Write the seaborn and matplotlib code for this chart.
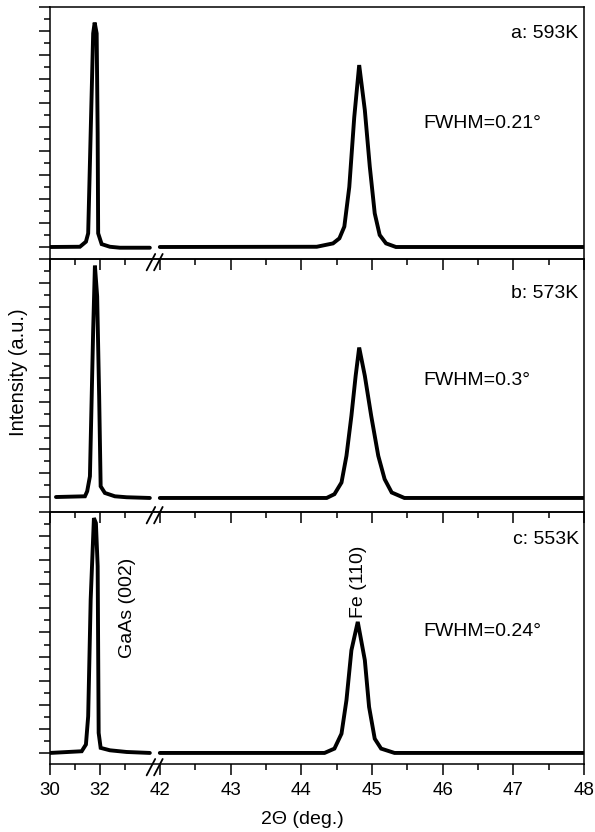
import numpy as np
import pandas as pd
import matplotlib
matplotlib.use("Agg")
import matplotlib.pyplot as plt
import seaborn as sns

# XRD scans, 2theta (deg) vs normalised intensity; left piece = GaAs (002), right piece = Fe (110)
A_GAAS_X = [30.0, 31.2, 31.44, 31.53, 31.63, 31.73, 31.79, 31.87, 31.91, 31.93, 32.07, 32.4, 32.8, 34.0]
A_GAAS_Y = [0.0, 0.001, 0.022, 0.057, 0.475, 0.89, 0.935, 0.89, 0.475, 0.057, 0.012, 0.001, -0.003, -0.003]
A_FE_X = [42.0, 44.22, 44.45, 44.54, 44.61, 44.68, 44.75, 44.82, 44.90, 44.97, 45.04, 45.11, 45.20, 45.34, 48.0]
A_FE_Y = [0.0, 0.001, 0.015, 0.036, 0.085, 0.25, 0.54, 0.758, 0.57, 0.335, 0.14, 0.05, 0.015, 0.0, 0.0]

B_GAAS_X = [30.24, 31.4, 31.49, 31.6, 31.73, 31.8, 31.89, 31.97, 32.03, 32.2, 32.6, 33.07, 34.0]
B_GAAS_Y = [0.0, 0.003, 0.024, 0.087, 0.70, 0.972, 0.843, 0.423, 0.045, 0.017, 0.003, -0.001, -0.004]
B_FE_X = [42.0, 44.36, 44.47, 44.57, 44.64, 44.71, 44.77, 44.82, 44.90, 44.99, 45.09, 45.18, 45.28, 45.46, 48.0]
B_FE_Y = [-0.004, -0.004, 0.012, 0.061, 0.173, 0.341, 0.509, 0.628, 0.509, 0.341, 0.173, 0.075, 0.019, -0.004, -0.004]

C_GAAS_X = [30.0, 31.27, 31.44, 31.53, 31.63, 31.76, 31.84, 31.91, 31.95, 32.03, 32.4, 33.07, 34.0]
C_GAAS_Y = [0.0, 0.007, 0.035, 0.152, 0.636, 0.975, 0.954, 0.775, 0.083, 0.021, 0.011, 0.004, 0.0]
C_FE_X = [42.0, 44.33, 44.47, 44.57, 44.64, 44.71, 44.80, 44.90, 44.96, 45.04, 45.13, 45.32, 48.0]
C_FE_Y = [0.0, 0.0, 0.018, 0.08, 0.219, 0.426, 0.544, 0.385, 0.191, 0.059, 0.018, 0.0, 0.0]

PANEL_LABELS = ["a: 593K", "b: 573K", "c: 553K"]
FWHM_LABELS = ["FWHM=0.21°", "FWHM=0.3°", "FWHM=0.24°"]
X_MAJOR = [30, 32, 42, 43, 44, 45, 46, 47, 48]
X_MINOR = [31, 33, 42.5, 43.5, 44.5, 45.5, 46.5, 47.5]

SCANS = [(A_GAAS_X, A_GAAS_Y, A_FE_X, A_FE_Y),
         (B_GAAS_X, B_GAAS_Y, B_FE_X, B_FE_Y),
         (C_GAAS_X, C_GAAS_Y, C_FE_X, C_FE_Y)]

sns.set_style("ticks")
plt.rcParams.update({
    "font.family": ["Liberation Sans", "DejaVu Sans"],
    "text.color": "black", "axes.labelcolor": "black", "axes.edgecolor": "black",
    "xtick.color": "black", "ytick.color": "black",
    "axes.linewidth": 1.1, "xtick.major.width": 1.1, "ytick.major.width": 1.1,
    "xtick.minor.width": 1.1, "ytick.minor.width": 1.1,
    "xtick.direction": "out", "ytick.direction": "out",
})


# broken axis: 30-34 compressed, gap 34-42, 42-48 expanded
def _fwd(x):
    x = np.asarray(x, float)
    return np.where(x <= 34, 25 * (x - 30), np.where(x < 42, 100 + 1.25 * (x - 34), 110 + 70.8 * (x - 42)))


def _inv(p):
    p = np.asarray(p, float)
    return np.where(p <= 100, 30 + p / 25, np.where(p < 110, 34 + (p - 100) / 1.25, 42 + (p - 110) / 70.8))


# (bottom, height, ymin) in figure fraction per panel
PANELS = [(0.6887, 0.3029, -0.050), (0.3846, 0.3041, -0.063), (0.0817, 0.3029, -0.046)]
TXT_Y = [(0.878, 0.521), (0.845, 0.502), (0.872, 0.508)]

fig = plt.figure(figsize=(5.95, 8.32), dpi=100)
for i, ((gx, gy, fx, fy), (bot, h, ymin)) in enumerate(zip(SCANS, PANELS)):
    ax = fig.add_axes([0.084, bot, 0.8975, h])
    ax.set_facecolor("none")
    df = pd.DataFrame({"x": list(gx) + list(fx), "y": list(gy) + list(fy),
                       "seg": ["GaAs"] * len(gx) + ["Fe"] * len(fx)})
    sns.lineplot(data=df, x="x", y="y", units="seg", estimator=None, color="black",
                 lw=2.8, ax=ax, solid_joinstyle="miter")
    ax.set_xscale("function", functions=(_fwd, _inv))
    ax.set_xlim(30, 48)
    ax.set_ylim(ymin, 1.0)
    ax.set_xticks(X_MAJOR)
    ax.set_xticks(X_MINOR, minor=True)
    ax.set_yticks(np.arange(0, 1.01, 0.1))
    ax.set_yticks(np.arange(0.05, 1.0, 0.1), minor=True)
    ax.set_yticklabels([])
    ax.set_xlabel(""); ax.set_ylabel("")
    ax.tick_params(axis="x", which="major", length=8, labelsize=13.5, pad=5)
    ax.tick_params(axis="x", which="minor", length=4)
    ax.tick_params(axis="y", which="major", length=8)
    ax.tick_params(axis="y", which="minor", length=4.5)
    if i < 2:
        ax.set_xticklabels([])
    else:
        ax.set_xticklabels([str(t) for t in X_MAJOR])
    for s in ax.spines.values():
        s.set_visible(True)
        s.set_color("black")
    # break marks on the bottom spine
    for xc in (0.189, 0.203):
        ax.plot([xc - 0.008, xc + 0.008], [-0.045, 0.02], color="black", lw=1.3,
                transform=ax.transAxes, clip_on=False, zorder=5)
    ax.text(0.99, TXT_Y[i][0], PANEL_LABELS[i], transform=ax.transAxes,
            ha="right", va="baseline", fontsize=14)
    ax.text(0.70, TXT_Y[i][1], FWHM_LABELS[i], transform=ax.transAxes,
            ha="left", va="baseline", fontsize=14)
    if i == 2:
        ax.text(0.146, 0.421, "GaAs (002)", transform=ax.transAxes, rotation=90,
                ha="center", va="bottom", fontsize=14)
        ax.text(0.577, 0.579, "Fe (110)", transform=ax.transAxes, rotation=90,
                ha="center", va="bottom", fontsize=14)

fig.text(19 / 595, 1 - 372 / 832, "Intensity (a.u.)", rotation=90,
         ha="center", va="center", fontsize=14.5)
fig.text(302 / 595, 1 - 819 / 832, "2Θ (deg.)", ha="center", va="center", fontsize=14)

fig.savefig("out.png", dpi=100)
